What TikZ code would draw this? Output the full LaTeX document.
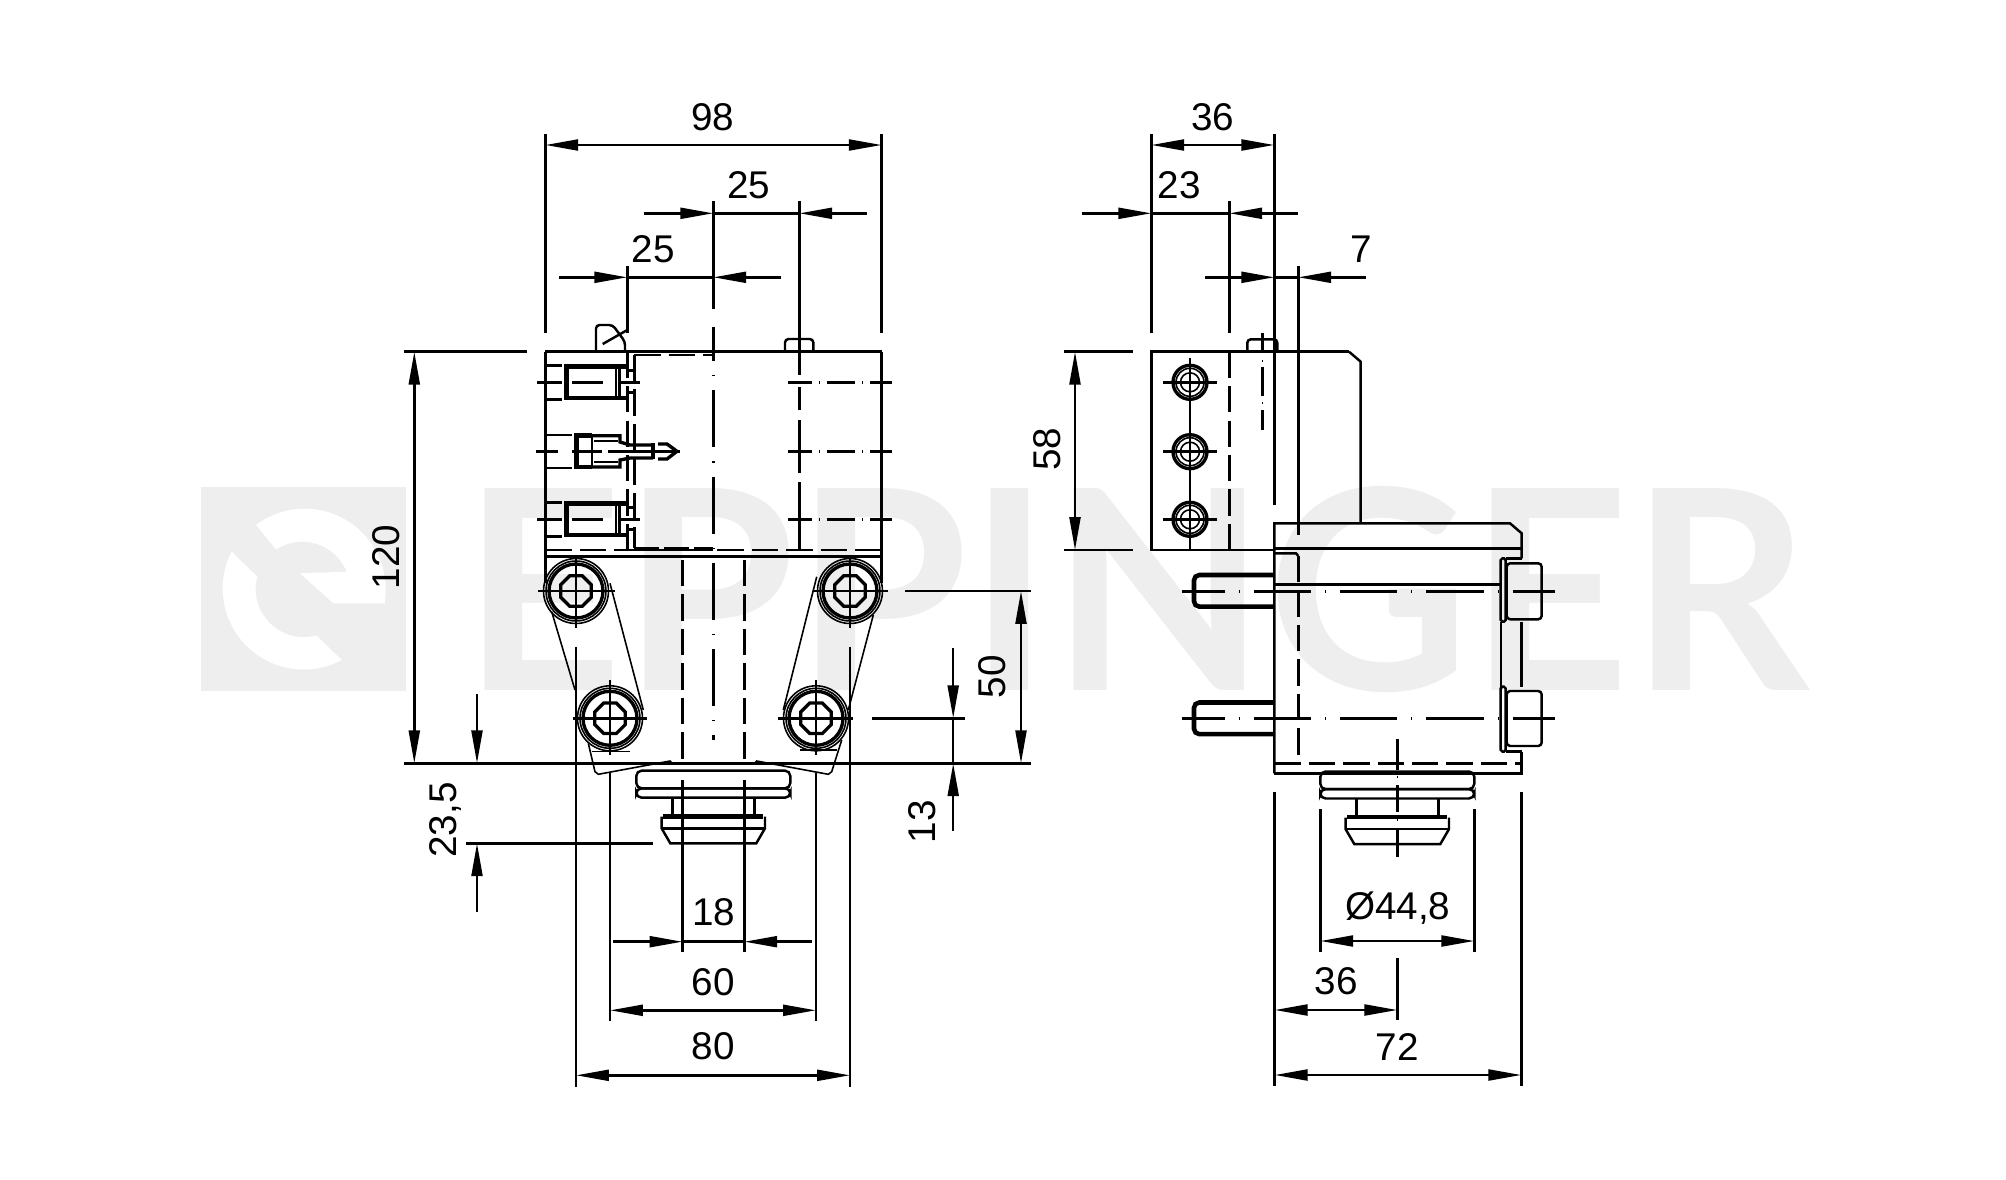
\documentclass[tikz,border=0pt]{standalone}
\usepackage{fontspec}
\setmainfont{Liberation Sans}
\newfontfamily\wmfont{Lato}
\usetikzlibrary{arrows.meta}

\definecolor{wmgray}{HTML}{EEEEEE}
\tikzset{
	lnmain/.style={line width=1.4pt},
	lnthin/.style={line width=0.9pt},
	lnmid/.style={line width=1.9pt},
	lnthick/.style={line width=2.6pt},
	dashln/.style={line width=1.4pt,dash pattern=on 15pt off 4.6pt},
	axisln/.style={line width=1.4pt,dash pattern=on 32.5pt off 8pt on 0.6pt off 8pt,dash phase=8pt},
	axisshort/.style={line width=1.4pt,dash pattern=on 16pt off 4pt on 0.6pt off 4pt,dash phase=2.6pt},
	tipA/.style={-{Triangle[length=18.7pt,width=6.2pt]},line width=1.4pt},
	tipAB/.style={{Triangle[length=18.7pt,width=6.2pt]}-{Triangle[length=18.7pt,width=6.2pt]},line width=1.4pt},
	dimtext/.style={font=\fontsize{22}{22}\selectfont,inner sep=0pt},
	wmtext/.style={font=\wmfont\bfseries\fontsize{159}{159}\selectfont,text=wmgray,inner sep=0pt,anchor=base west}
}

\begin{document}
\begin{tikzpicture}[x=0.02cm,y=-0.02cm]
	\newcommand\capPart[2]{
		\draw[lnmain,rounded corners=3pt] (#1-77,#2) rectangle (#1+77,#2+17.6);
		\draw[lnmain,rounded corners=3pt] (#1-77,#2+17.6) rectangle (#1+77,#2+27);
		\draw[lnmain] (#1-41,#2+27) -- (#1-41,#2+45);
		\draw[lnmain] (#1+41,#2+27) -- (#1+41,#2+45);
		\draw[lnthick] (#1-50,#2+45.6) -- (#1+50,#2+45.6);
		\draw[lnmain] (#1-51.7,#2+57.6) -- (#1+51.7,#2+57.6);
		\draw[lnmain] (#1-51.7,#2+46) -- (#1-51.7,#2+57.6) -- (#1-43,#2+72.6) -- (#1+43,#2+72.6) -- (#1+51.7,#2+57.6) -- (#1+51.7,#2+46);
	}
	\newcommand\bigBolt[2]{
		\draw[lnthin] (#1,#2) circle (32.5);
		\draw[lnthin] (#1,#2) circle (30);
		\draw[lnmid] (#1,#2) circle (27);
		\def\bx{#1}\def\by{#2}
		\draw[lnmid] plot[samples=9,domain=22.5:382.5] ({\bx+16.5*cos(\x)},{\by+16.5*sin(\x)}) -- cycle;
	}
	\newcommand\smallBolt[1]{
		\draw[lnmid] (1190,#1) circle (17);
		\draw[lnthin] (1190,#1) circle (14);
		\draw[lnthin] (1190,#1) circle (9.5);
		\draw[lnmain] (1163,#1) -- (1216.7,#1);
	}
	\newcommand\termPart[1]{
		\draw[lnthick] (628,#1-15.8) -- (566.7,#1-15.8) -- (566.7,#1+15.8) -- (628,#1+15.8);
		\draw[lnmain] (546,#1-17) -- (562,#1-17);
		\draw[lnmain] (546,#1+17) -- (562,#1+17);
		\draw[lnmain] (616,#1-14) -- (616,#1+14);
		\draw[lnmain] (619.5,#1-14) -- (619.5,#1+14);
		\draw[lnmain] (627,#1-12) -- (636,#1-12);
		\draw[lnmain] (627,#1+10) -- (636,#1+10);
		\draw[lnmain] (537.3,#1) -- (562,#1);
		\draw[lnmain] (572,#1) -- (603,#1);
		\draw[lnmain] (618,#1) -- (640,#1);
	}
	\newcommand\studPart[1]{
		\draw[lnthick,rounded corners=3pt] (1274.3,#1-15.8) -- (1194,#1-15.8) -- (1194,#1+15.8) -- (1274.3,#1+15.8);
	}
	\newcommand\headPart[2]{
		\draw[lnmain,rounded corners=2pt] (1506.7,#1) -- (1541.7,#1) -- (1541.7,#2) -- (1506.7,#2) -- cycle;
	}

	\useasboundingbox (0,0) rectangle (2006,1180);

	\fill[wmgray] (201,486.7) rectangle (406,690.7);
	\fill[white] (256,525) arc[start angle=127,end angle=0,radius=1.62cm] -- (385,603.3) -- (333.3,603.3) -- (300,573.3) -- (346.7,571.7) arc[start angle=22,end angle=123,radius=0.96cm] -- cycle;
	\fill[white] (231.7,551.7) -- (257.3,576.7) arc[start angle=165,end angle=285.4,radius=0.96cm] -- (341.7,660) arc[start angle=298,end angle=152.7,radius=1.62cm] -- cycle;
	\node[wmtext] (wordmark) at (462,690.7) {EPPINGER};

	\draw[lnmain] (545.3,351.7) -- (881.7,351.7);
	\draw[lnmain] (545.3,351.7) -- (545.3,583);
	\draw[lnmain] (881.7,351.7) -- (881.7,583);
	\draw[lnmain] (545.3,556.7) -- (881.7,556.7);
	\draw[dashln] (545.3,550) -- (881.7,550);
	\draw[lnthick,dash pattern=on 14pt off 3pt] (634.3,549) -- (713.3,549);
	\draw[dashln] (634.3,355) -- (713.3,355);
	\draw[dashln] (627.3,351.7) -- (627.3,550);
	\draw[dashln] (634.3,355) -- (634.3,548);
	\draw[lnmain] (713.3,134+67) -- (713.3,309.3);
	\draw[axisln,dash phase=12.9pt] (713.3,326.7) -- (713.3,740);
	\draw[lnmain,rounded corners=2pt] (596,351.7) -- (596,325) -- (612.7,325) -- (625,341.7) -- (625,351.7);
	\draw[lnmain] (602.7,344) -- (627.3,330);
	\draw[lnmain,rounded corners=2pt] (785,351.7) -- (785,339) -- (813.3,339) -- (813.3,351.7);
	\draw[lnmain] (799.3,266) -- (799.3,375);
	\draw[lnmain] (799.3,387) -- (799.3,410);
	\draw[lnmain] (799.3,420) -- (799.3,473);
	\draw[lnmain] (799.3,482) -- (799.3,550);
	\foreach \ay in {382.3,451.3,519.3}{
		\draw[axisshort] (788.3,\ay) -- (891.7,\ay);
	}

	\termPart{382.3}
	\termPart{519.3}

	\draw[lnmain] (546,435) -- (572,435);
	\draw[lnmain] (546,468) -- (572,468);
	\draw[lnthick] (592,435.7) -- (576.7,435.7) -- (576.7,467) -- (592,467);
	\draw[lnmain] (592,435.7) -- (592,467);
	\draw[lnmid] (592,435.7) -- (620,435.7) -- (620,442) -- (630,445) -- (653,445);
	\draw[lnmid] (592,467) -- (620,467) -- (620,460) -- (630,458) -- (653,458);
	\draw[lnthin] (594,441) -- (618,441);
	\draw[lnthin] (594,462) -- (618,462);
	\draw[lnthick] (653,443) -- (653,459);
	\draw[lnmid] (658,444) -- (667,444) -- (677,451.3) -- (667,459) -- (658,459);
	\draw[lnmain] (536,451.3) -- (558,451.3);
	\draw[lnmain] (572,451.3) -- (602,451.3);
	\draw[lnmain] (608,451.3) -- (680,451.3);

	\bigBolt{576}{591}
	\bigBolt{850}{591}
	\bigBolt{610}{718.3}
	\bigBolt{816}{718.3}

	\draw[lnthin] (610,583.3) -- (643.3,710);
	\draw[lnthin] (551.7,611.7) -- (575,690);
	\draw[lnthin] (588.3,743.3) -- (595,771.7) -- (598.3,774.3) -- (670,761) -- (671.7,762.7);
	\draw[lnthin] (591.7,751.7) -- (630,751.7);
	\draw[lnthin] (816.7,576.7) -- (783.3,710);
	\draw[lnthin] (873.3,615) -- (848.3,710);
	\draw[lnthin] (841.7,740) -- (831.7,771.7) -- (828.3,774.3) -- (756.7,761) -- (755,762.7);
	\draw[lnthin] (800,750) -- (836.7,750);

	\draw[dashln] (682.5,560) -- (682.5,763.3);
	\draw[dashln] (744.3,560) -- (744.3,763.3);
	\capPart{713.3}{770.7}

	\draw[lnmain] (538,591) -- (615,591);
	\draw[lnmain] (812.7,591) -- (888,591);
	\draw[lnmain] (905,591) -- (1031,591);
	\draw[lnmain] (572.7,718.3) -- (646.7,718.3);
	\draw[lnmain] (778,718.3) -- (852.7,718.3);
	\draw[lnmain] (871.7,718.3) -- (964.6,718.3);
	\draw[lnmain] (576,555) -- (576,628);
	\draw[lnmain] (850,555) -- (850,628);
	\draw[lnmain] (610,680) -- (610,755);
	\draw[lnmain] (816,680) -- (816,755);

	\draw[lnmain] (404,351.7) -- (527,351.7);
	\draw[lnmain] (404,763.3) -- (1031,763.3);
	\draw[lnmain] (466.4,843.3) -- (652.9,843.3);
	\draw[lnmain] (545.3,134) -- (545.3,333);
	\draw[lnmain] (881.7,134) -- (881.7,333);
	\draw[lnmain] (627.3,266) -- (627.3,333);
	\draw[lnmain] (799.3,201) -- (799.3,266);
	\draw[lnmain] (576,646.7) -- (576,1086.7);
	\draw[lnmain] (850,646.7) -- (850,1086.7);
	\draw[lnmain] (610,773) -- (610,1020.7);
	\draw[lnmain] (816,773) -- (816,1020.7);
	\draw[lnmain] (682.5,780) -- (682.5,951.7);
	\draw[lnmain] (744.3,780) -- (744.3,951.7);

	\draw[tipAB] (545.3,145) -- (881.7,145);
	\draw[tipA] (644,213.3) -- (713.3,213.3);
	\draw[lnmain] (713.3,213.3) -- (799.3,213.3);
	\draw[tipA] (866.7,213.3) -- (799.3,213.3);
	\draw[tipA] (559.3,277.3) -- (627.3,277.3);
	\draw[lnmain] (627.3,277.3) -- (713.3,277.3);
	\draw[tipA] (780.7,277.3) -- (713.3,277.3);
	\draw[tipAB] (414.3,351.7) -- (414.3,763.3);
	\draw[tipA] (477,694) -- (477,763.3);
	\draw[tipA] (477,911.7) -- (477,843.3);
	\draw[tipAB] (1021,591) -- (1021,763.3);
	\draw[tipA] (953.2,648) -- (953.2,718.3);
	\draw[lnmain] (953.2,718.3) -- (953.2,763.3);
	\draw[tipA] (953.2,830.7) -- (953.2,763.3);
	\draw[tipA] (612.9,941.7) -- (682.5,941.7);
	\draw[lnmain] (682.5,941.7) -- (744.3,941.7);
	\draw[tipA] (812,941.7) -- (744.3,941.7);
	\draw[tipAB] (610,1010.3) -- (816,1010.3);
	\draw[tipAB] (576,1075.3) -- (850,1075.3);

	\node[dimtext] (dimWidth) at (712.7,117) {98};
	\node[dimtext] (dimUpper) at (748.7,185) {25};
	\node[dimtext] (dimLower) at (653.3,249.3) {25};
	\node[dimtext,rotate=90] (dimHeight) at (386,557) {120};
	\node[dimtext,rotate=90] (dimKnob) at (445,820) {23,5};
	\node[dimtext,rotate=90] (dimPitchA) at (992,676.7) {50};
	\node[dimtext,rotate=90] (dimPitchB) at (922,821.7) {13};
	\node[dimtext] (dimNeck) at (713.6,911.7) {18};
	\node[dimtext] (dimInner) at (713,981.7) {60};
	\node[dimtext] (dimOuter) at (713,1046) {80};

	\draw[lnmain] (1349,351.7) -- (1151.7,351.7) -- (1151.7,550) -- (1274.3,550);
	\draw[lnmain] (1349,351.7) -- (1360.7,361.7) -- (1360.7,523.3);
	\draw[dashln] (1229.3,351.7) -- (1229.3,550);
	\draw[lnmain] (1190,358) -- (1190,550);
	\smallBolt{382.3}
	\smallBolt{451.7}
	\smallBolt{519.3}
	\draw[lnmain,rounded corners=2pt] (1247.3,351.7) -- (1247.3,339.3) -- (1277.3,339.3) -- (1277.3,351.7);
	\draw[lnmain] (1262.3,333) -- (1262.3,351.7);
	\draw[lnthin] (1262.3,359.7) -- (1262.3,361.7);
	\draw[lnmain] (1262.3,366.7) -- (1262.3,396);
	\draw[lnthin] (1262.3,402) -- (1262.3,404);
	\draw[lnmain] (1262.3,410) -- (1262.3,430);

	\draw[lnmain] (1274.3,773.3) -- (1274.3,523.3) -- (1510,523.3) -- (1521.7,533.3) -- (1521.7,558.3);
	\draw[lnmain] (1521.7,621.7) -- (1521.7,686.7);
	\draw[lnmain] (1521.7,751.7) -- (1521.7,773.3) -- (1274.3,773.3);
	\draw[lnmain] (1274.3,548.3) -- (1521.7,548.3);
	\draw[lnmain] (1274.3,553.3) -- (1296,553.3) -- (1298.3,556);
	\draw[dashln] (1298.3,556) -- (1298.3,763.3);
	\draw[dashln] (1274.3,763.3) -- (1521.7,763.3);
	\draw[lnmain] (1274.3,584.3) -- (1500,584.3);
	\studPart{590.8}
	\studPart{718.3}
	\draw[axisln] (1181.7,591.3) -- (1555,591.3);
	\draw[axisln] (1181.7,718.3) -- (1555,718.3);
	\draw[lnmain] (1501,621.7) -- (1501,686.7);
	\draw[lnmain,rounded corners=1pt] (1500.7,558.3) rectangle (1505.7,621.7);
	\draw[lnmain,rounded corners=1pt] (1500.7,686.7) rectangle (1505.7,751.7);
	\draw[lnmain] (1505.7,558.3) -- (1521.7,558.3);
	\draw[lnmain] (1505.7,751.7) -- (1521.7,751.7);
	\headPart{563.3}{619.3}
	\headPart{691}{746}
	\capPart{1397.3}{771.5}
	\draw[lnmain] (1397.3,739) -- (1397.3,770);
	\draw[lnthin] (1397.3,776.3) -- (1397.3,778.3);
	\draw[lnmain] (1397.3,785) -- (1397.3,812);
	\draw[lnthin] (1397.3,819) -- (1397.3,821);
	\draw[lnmain] (1397.3,828) -- (1397.3,856.7);

	\draw[lnmain] (1064,351.7) -- (1132.7,351.7);
	\draw[lnmain] (1064,550) -- (1132.7,550);
	\draw[lnmain] (1151.3,134) -- (1151.3,333);
	\draw[lnmain] (1274.3,134) -- (1274.3,505);
	\draw[lnmain] (1229.3,201) -- (1229.3,333);
	\draw[lnmain] (1298.3,266) -- (1298.3,535);
	\draw[lnmain] (1274.7,792.3) -- (1274.7,1086);
	\draw[lnmain] (1521.3,792.3) -- (1521.3,1086);
	\draw[lnmain] (1320.3,809) -- (1320.3,951.7);
	\draw[lnmain] (1474.3,809) -- (1474.3,951.7);
	\draw[lnmain] (1397.3,958) -- (1397.3,1020);

	\draw[tipAB] (1151.3,145) -- (1274.3,145);
	\draw[tipA] (1081.7,213.3) -- (1151.3,213.3);
	\draw[lnmain] (1151.3,213.3) -- (1229.3,213.3);
	\draw[tipA] (1297.7,213.3) -- (1229.3,213.3);
	\draw[tipA] (1205,277.3) -- (1274.3,277.3);
	\draw[lnmain] (1274.3,277.3) -- (1298.3,277.3);
	\draw[tipA] (1365.7,277.3) -- (1298.3,277.3);
	\draw[tipAB] (1075,351.7) -- (1075,550);
	\draw[tipAB] (1320.3,941) -- (1474.3,941);
	\draw[tipAB] (1274.7,1010) -- (1397.3,1010);
	\draw[tipAB] (1274.7,1075) -- (1521.3,1075);

	\node[dimtext] (sideDepth) at (1212.7,117) {36};
	\node[dimtext] (sidePlate) at (1179,185) {23};
	\node[dimtext] (sideGap) at (1361,249.3) {7};
	\node[dimtext,rotate=90] (sideHeight) at (1047,449) {58};
	\node[dimtext] (sideDia) at (1397.7,907.7) {Ø44,8};
	\node[dimtext] (sideHalf) at (1336,981) {36};
	\node[dimtext] (sideTotal) at (1397,1047) {72};
\end{tikzpicture}
\end{document}
